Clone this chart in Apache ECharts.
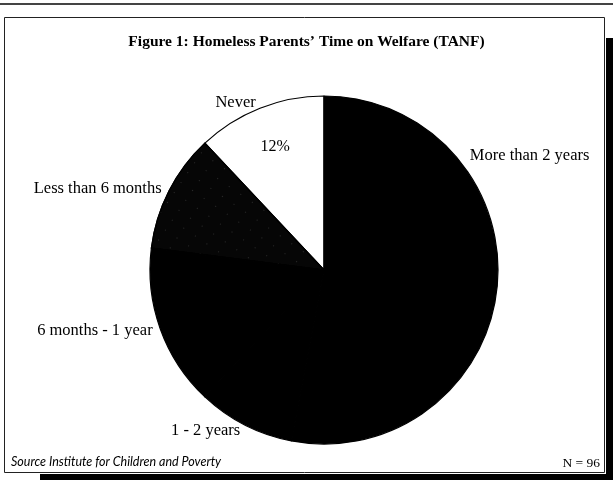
<!DOCTYPE html>
<html>
<head>
<meta charset="utf-8">
<script src="https://cdn.jsdelivr.net/npm/echarts@6/dist/echarts.min.js"></script>
<style>
  html, body { margin: 0; padding: 0; background: #fff; }
  #chart { width: 613px; height: 480px; }
</style>
</head>
<body>
<div id="chart"></div>
<script>
// categories and shares (percent); order runs counter-clockwise from 12 o'clock
var categories = ['Never', 'Less than 6 months', '6 months - 1 year', '1 - 2 years', 'More than 2 years'];
var shares = [12, 11, 15, 9, 53];
var sliceColors = ['#ffffff', '#060606', '#000000', '#000000', '#000000'];
var sampleSize = 96;

var serif = '"Liberation Serif", "Times New Roman", serif';
var pieCenter = [324, 270];
var pieRadius = 174;

var chart = echarts.init(document.getElementById('chart'));

var pieData = categories.map(function (name, i) {
  var item = { name: name, value: shares[i], itemStyle: { color: sliceColors[i] } };
  if (name === 'Less than 6 months') {
    // dithered dark grey in the scan: black with sparse white specks
    item.itemStyle.decal = {
      symbol: 'rect',
      symbolSize: 0.6,
      color: 'rgba(255,255,255,0.5)',
      dashArrayX: [1, 13],
      dashArrayY: [1, 11],
      rotation: 0.6
    };
  }
  return item;
});

// same data, used only to put the percentage inside the white slice
var innerData = categories.map(function (name, i) {
  return {
    name: name,
    value: shares[i],
    label: { show: name === 'Never' }
  };
});

// the big slice's name sits up on the right rim in the original, not at the slice middle
var bigLabelAngle = 52 * Math.PI / 180;
var bigLabelDist = 185;

var option = {
  backgroundColor: '#fff',
  animation: false,
  title: {
    text: "Figure 1: Homeless Parents\u2019 Time on Welfare (TANF)",
    left: 'center',
    top: 29,
    textStyle: { fontFamily: serif, fontSize: 15.5, fontWeight: 'bold', color: '#000' }
  },
  graphic: [
    // scanned frame and its shadow
    { type: 'rect', shape: { x: 0, y: 3, width: 613, height: 2 }, style: { fill: '#444' }, silent: true },
    { type: 'rect', shape: { x: 4.5, y: 17.5, width: 600, height: 455 }, style: { fill: 'none', stroke: '#222', lineWidth: 1 }, silent: true },
    { type: 'rect', shape: { x: 606, y: 38, width: 7, height: 442 }, style: { fill: '#000' }, silent: true },
    { type: 'rect', shape: { x: 40, y: 474, width: 566, height: 6 }, style: { fill: '#000' }, silent: true },
    {
      type: 'text', left: 11, top: 455,
      style: { text: 'Source Institute for Children and Poverty', font: 'italic 12.5px Lato, "Open Sans", sans-serif', fill: '#000' }
    },
    {
      type: 'text', right: 13, top: 456,
      style: { text: 'N = ' + sampleSize, font: '13.5px ' + serif, fill: '#000' }
    }
  ],
  series: [
    {
      type: 'pie',
      center: pieCenter,
      radius: pieRadius,
      startAngle: 90,
      clockwise: false,
      avoidLabelOverlap: false,
      silent: true,
      itemStyle: { borderColor: '#000', borderWidth: 1.2 },
      label: {
        show: true,
        position: 'outside',
        formatter: '{b}',
        fontFamily: serif,
        fontSize: 16.5,
        color: '#000',
        distanceToLabelLine: 2
      },
      labelLine: { show: false, length: 6, length2: 0 },
      labelLayout: function (p) {
        if (p.dataIndex === categories.length - 1) {
          return {
            x: pieCenter[0] + bigLabelDist * Math.sin(bigLabelAngle),
            y: pieCenter[1] - bigLabelDist * Math.cos(bigLabelAngle),
            align: 'left',
            verticalAlign: 'middle'
          };
        }
      },
      data: pieData
    },
    {
      type: 'pie',
      center: pieCenter,
      radius: [86, pieRadius],
      startAngle: 90,
      clockwise: false,
      silent: true,
      itemStyle: { color: 'rgba(0,0,0,0)', borderWidth: 0 },
      label: {
        show: false,
        position: 'inside',
        formatter: '{c}%',
        fontFamily: serif,
        fontSize: 16,
        color: '#000'
      },
      labelLine: { show: false },
      data: innerData
    }
  ]
};

chart.setOption(option);
</script>
</body>
</html>
